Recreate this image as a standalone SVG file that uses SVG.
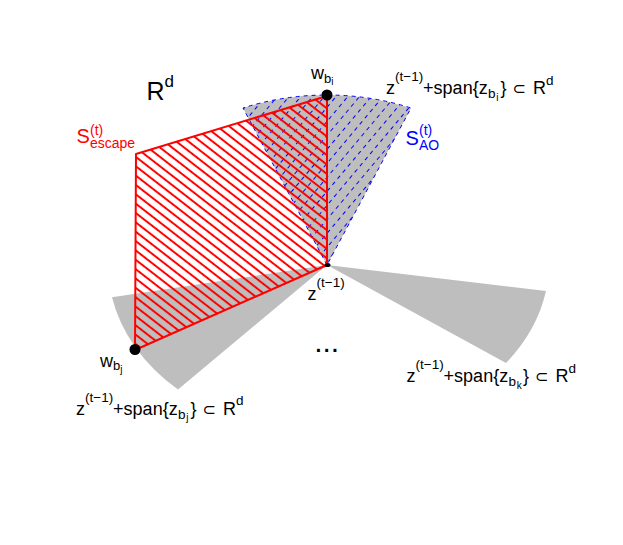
<svg xmlns="http://www.w3.org/2000/svg" width="623" height="545" viewBox="0 0 623 545">
<style>
text{font-family:"Liberation Sans","DejaVu Sans",Arial,sans-serif;fill:#000}
.m{font-size:18px}
.sp{font-size:13.5px}
.ss{font-size:10px}
.sector{fill:#bebebe;stroke:none}
.dot{fill:#000}
.red{fill:#f00}
.blue{fill:#00f}
</style>
<defs>
<pattern id="redHatch" patternUnits="userSpaceOnUse" width="20" height="7.4" patternTransform="rotate(37.8)">
<line x1="0" y1="3.7" x2="20" y2="3.7" stroke="#f00" stroke-width="2"/>
</pattern>
<pattern id="blueHatch" patternUnits="userSpaceOnUse" width="8" height="9" patternTransform="rotate(-50)">
<line x1="0" y1="4.5" x2="8" y2="4.5" stroke="#00f" stroke-width="1" stroke-dasharray="4 4"/>
</pattern>
</defs>

<g id="sector-top">
<path class="sector" d="M327,265 L243,108 A219,170 0 0,1 411,108 Z"/>
<path d="M327,265 L243,108 A219,170 0 0,1 411,108 Z" fill="url(#blueHatch)" stroke="#00f" stroke-width="1" stroke-dasharray="4 4"/>
</g>
<g id="sector-left">
<path class="sector" d="M327,265 L112,297.3 A220,170 0 0,0 178,389.6 Z"/>
</g>
<g id="sector-right">
<path class="sector" d="M327,265 L546,291 A220,170 0 0,1 506,363 Z"/>
</g>

<g id="escape-region">
<path d="M136,154 L327,96 L327,265 L135,350 Z" fill="url(#redHatch)" stroke="#f00" stroke-width="2" stroke-linejoin="round"/>
</g>

<g id="points">
<circle class="dot" cx="327" cy="95" r="5.5"/>
<circle class="dot" cx="135" cy="349.5" r="5.5"/>
<ellipse class="dot" cx="327.5" cy="265" rx="3" ry="2"/>
</g>

<g id="label-Rd">
<text><tspan x="146.5" y="100" style="font-size:25px">R</tspan><tspan x="164.5" y="87" style="font-size:17px">d</tspan></text>
</g>

<g id="label-escape">
<text class="red"><tspan x="76.5" y="143.3" style="font-size:20px">S</tspan><tspan x="90" y="135" style="font-size:14px">(t)</tspan><tspan x="90" y="147.8" style="font-size:14px">escape</tspan></text>
</g>

<g id="label-AO">
<text class="blue"><tspan x="405.5" y="145" style="font-size:20px">S</tspan><tspan x="419" y="134.5" style="font-size:14px">(t)</tspan><tspan x="419" y="149.8" style="font-size:14px">AO</tspan></text>
</g>

<g id="label-wbi">
<text><tspan x="311" y="79" style="font-size:18px">w</tspan><tspan x="324" y="82.5" style="font-size:13px">b</tspan><tspan x="331.2" y="85" style="font-size:10px">i</tspan></text>
</g>

<g id="label-wbj">
<text><tspan x="100" y="366.5" style="font-size:18px">w</tspan><tspan x="113" y="370" style="font-size:13px">b</tspan><tspan x="120.2" y="372.5" style="font-size:10px">j</tspan></text>
</g>

<g id="label-z">
<text><tspan class="m" x="307.5" y="300">z</tspan><tspan class="sp" x="316.5" y="287">(t−1)</tspan></text>
</g>

<g id="label-dots">
<text x="326.7" y="351.5" text-anchor="middle" style="font-size:30px">...</text>
</g>

<g id="label-span-i">
<text><tspan class="m" x="386" y="94.3">z</tspan><tspan class="sp" x="395" y="81.3">(t−1)</tspan><tspan class="m" x="423.1" y="94.3">+span{z</tspan><tspan class="sp" x="488" y="98.3">b</tspan><tspan class="ss" x="496.3" y="100.8">i</tspan><tspan class="m" x="500.5" y="94.3">}</tspan><tspan style="font-size:16px" x="512.5" y="94.3">⊂</tspan><tspan class="m" x="533" y="94.3">R</tspan><tspan class="sp" x="546" y="84.8">d</tspan></text>
</g>

<g id="label-span-j">
<text><tspan class="m" x="76" y="414.5">z</tspan><tspan class="sp" x="85" y="401.5">(t−1)</tspan><tspan class="m" x="113.1" y="414.5">+span{z</tspan><tspan class="sp" x="178" y="418.5">b</tspan><tspan class="ss" x="186.3" y="421">j</tspan><tspan class="m" x="190.5" y="414.5">}</tspan><tspan style="font-size:16px" x="202.5" y="414.5">⊂</tspan><tspan class="m" x="223" y="414.5">R</tspan><tspan class="sp" x="236" y="405">d</tspan></text>
</g>

<g id="label-span-k">
<text><tspan class="m" x="406.5" y="382">z</tspan><tspan class="sp" x="415.5" y="369">(t−1)</tspan><tspan class="m" x="443.6" y="382">+span{z</tspan><tspan class="sp" x="508.5" y="386">b</tspan><tspan class="ss" x="516.8" y="388.5">k</tspan><tspan class="m" x="523" y="382">}</tspan><tspan style="font-size:16px" x="535" y="382">⊂</tspan><tspan class="m" x="555.5" y="382">R</tspan><tspan class="sp" x="568.5" y="372.5">d</tspan></text>
</g>
</svg>
